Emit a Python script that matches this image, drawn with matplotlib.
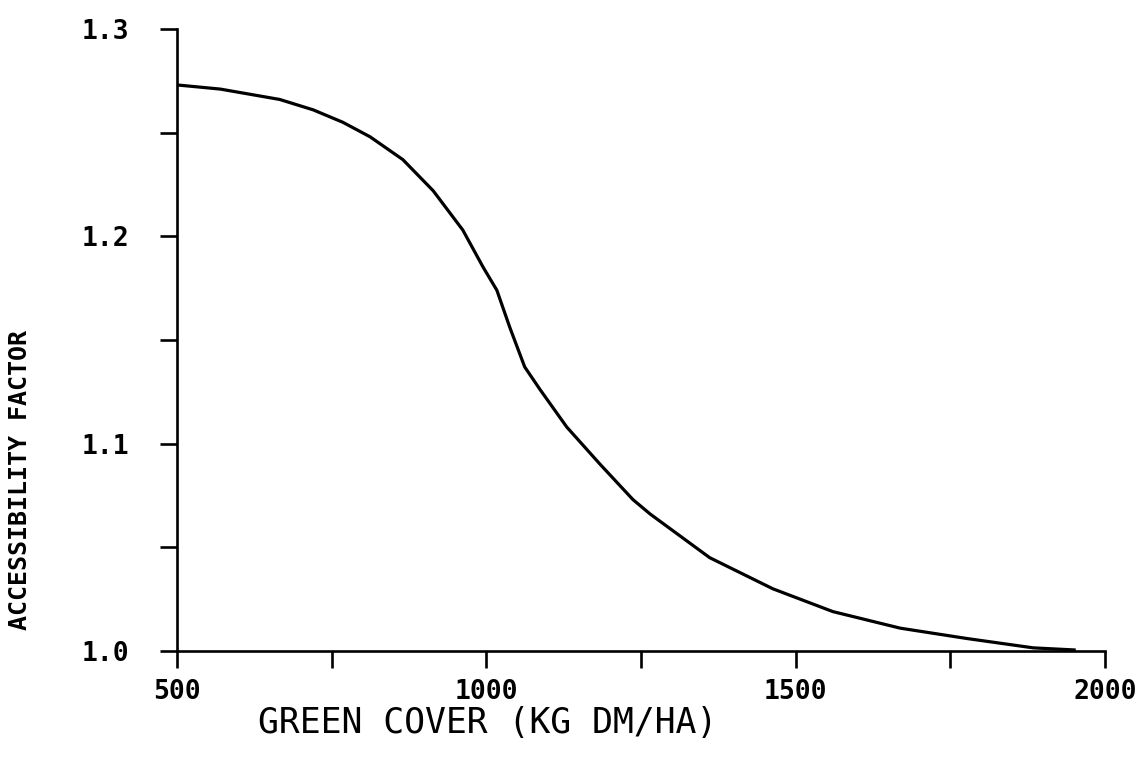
import matplotlib
matplotlib.use("Agg")
import matplotlib.pyplot as plt
from matplotlib.ticker import FixedLocator


matplotlib.rcParams.update({'font.family': 'DejaVu Sans Mono'})

# green cover (kg DM/ha) against accessibility factor
green_cover = [500, 570, 666, 720, 768, 812, 865, 914, 962, 995, 1017, 1038,
               1062, 1087, 1130, 1184, 1237, 1265, 1361, 1463, 1560, 1669,
               1777, 1884, 1950]
access_factor = [1.273, 1.271, 1.266, 1.261, 1.255, 1.248, 1.237, 1.222,
                 1.203, 1.185, 1.174, 1.156, 1.137, 1.126, 1.108, 1.090,
                 1.073, 1.066, 1.045, 1.030, 1.019, 1.011, 1.006, 1.0015,
                 1.0005]

x_labelled = [500, 1000, 1500, 2000]
x_unlabelled = [750, 1250, 1750]
y_labelled = [1.0, 1.1, 1.2, 1.3]
y_unlabelled = [1.05, 1.15, 1.25]

fig = plt.figure(figsize=(11.41, 7.62), dpi=100)
ax = fig.add_axes([0.1551, 0.1457, 0.8134, 0.8163])

ax.plot(green_cover, access_factor, color='black', lw=2.3)

ax.set_xlim(500, 2000)
ax.set_ylim(1.0, 1.3)

for side in ['top', 'right']:
    ax.spines[side].set_visible(False)
for side in ['left', 'bottom']:
    ax.spines[side].set_linewidth(1.9)

ax.xaxis.set_major_locator(FixedLocator(x_labelled))
ax.xaxis.set_minor_locator(FixedLocator(x_unlabelled))
ax.yaxis.set_major_locator(FixedLocator(y_labelled))
ax.yaxis.set_minor_locator(FixedLocator(y_unlabelled))
ax.set_xticklabels([str(v) for v in x_labelled], fontweight='bold', fontsize=19)
ax.set_yticklabels(['%.1f' % v for v in y_labelled], fontweight='bold', fontsize=19)

ax.tick_params(axis='both', which='both', direction='out', length=12,
               width=1.9, color='black')
ax.tick_params(axis='x', which='major', pad=8)
ax.tick_params(axis='y', which='major', pad=22)

ax.set_xlabel('GREEN COVER (KG DM/HA)', fontsize=25)
ax.xaxis.set_label_coords(0.335, -0.088)
ax.set_ylabel('ACCESSIBILITY FACTOR', fontsize=18, fontweight='bold')
ax.yaxis.set_label_coords(-0.156, 0.275)

fig.savefig('out.png', dpi=100)
